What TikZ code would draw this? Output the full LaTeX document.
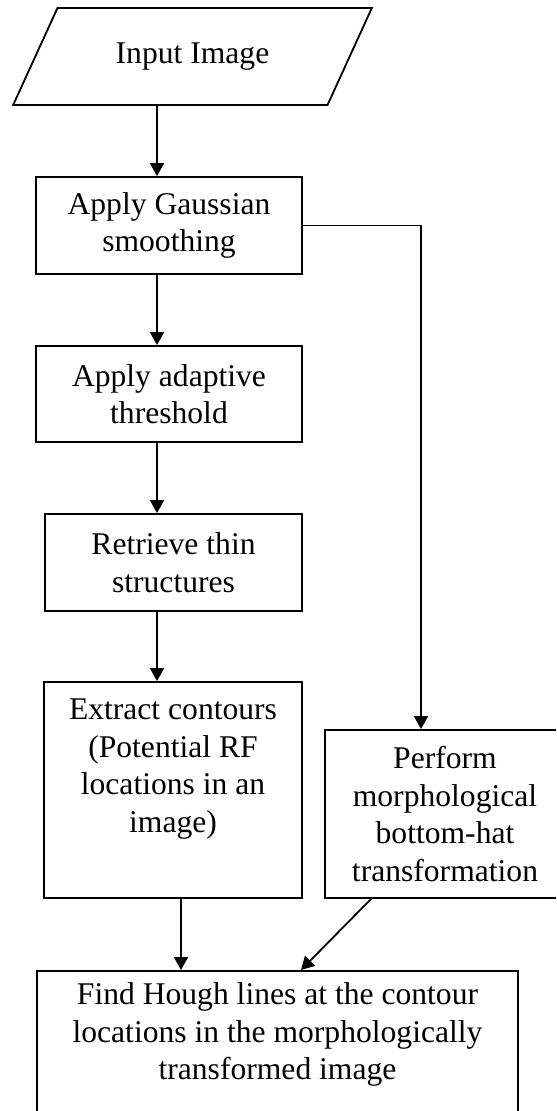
\documentclass[tikz,border=0pt]{standalone}
\usepackage{fontspec}
\setmainfont{Liberation Serif}
\usetikzlibrary{shapes.geometric,arrows.meta}

\begin{document}
\begin{tikzpicture}[x=0.5pt,y=-0.5pt,line width=0.9pt,>={Triangle[width=7pt,length=6.5pt]}]
    \tikzstyle{process}=[rectangle,draw=black,fill=white,align=center,inner sep=6pt,font=\fontsize{15.8}{18.75}\selectfont]
    \tikzstyle{io}=[trapezium,trapezium left angle=47.5,trapezium right angle=132.5,trapezium stretches=true,draw=black,fill=white,inner sep=0pt,font=\fontsize{15.8}{18.75}\selectfont]
    \useasboundingbox (0,0) rectangle (556,1111);
    \clip (0,0) rectangle (556,1111);
    \coordinate (spine) at (157,0);

    \node[io,minimum width=179.5pt,minimum height=48.5pt] (input) at (192.5,56.5) {Input Image};
    \node[process,minimum width=133pt,minimum height=48.5pt] (gauss) at (169,225.5) {Apply Gaussian\\smoothing};
    \node[process,minimum width=133pt,minimum height=48pt] (thresh) at (169,394) {Apply adaptive\\threshold};
    \node[process,minimum width=128.5pt,minimum height=48.5pt] (thin) at (173.5,562.5) {Retrieve thin\\structures};
    \node[process,minimum width=129pt,minimum height=108pt] (contour) at (173,790) {Extract contours\\(Potential RF\\locations in an\\image)\\\strut};
    \node[process,minimum width=120pt,minimum height=84pt] (morph) at (445,814) {Perform\\morphological\\bottom-hat\\transformation};
    \node[process,minimum width=240.5pt,anchor=north] (hough) at (277.5,970) {Find Hough lines at the contour\\locations in the morphologically\\transformed image\\\strut};

    \foreach \from/\to in {input/gauss,gauss/thresh,thresh/thin,thin/contour}
        \draw[->] (\from.south -| spine) -- (\to.north -| spine);

    % side branch to the bottom-hat step
    \draw[->] (gauss.east) -| ([xshift=-12pt]morph.north);
    \draw[->] ([xshift=4pt]contour.south) -- ([xshift=4pt]contour.south |- hough.north);
    \draw[->] ([xshift=23.5pt]morph.south west) -- ([xshift=11.75pt]hough.north);
\end{tikzpicture}
\end{document}
